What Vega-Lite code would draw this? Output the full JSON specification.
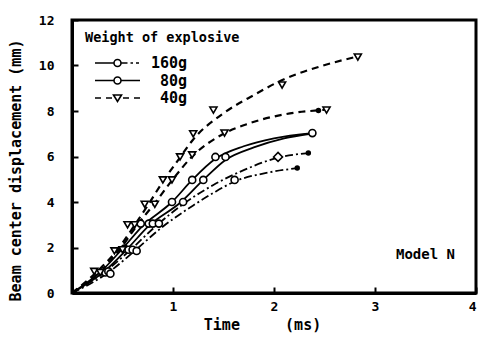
{
  "$schema": "https://vega.github.io/schema/vega-lite/v6.json",
  "autosize": {"type": "none"},
  "padding": {"left": 72, "top": 20, "right": 6, "bottom": 44},
  "width": 404,
  "height": 273,
  "background": "white",
  "config": {
    "view": {"stroke": "black", "strokeWidth": 3},
    "font": "DejaVu Sans Mono",
    "axis": {
      "grid": false,
      "domainColor": "black",
      "domainWidth": 3,
      "tickColor": "black",
      "tickWidth": 2,
      "labelFont": "DejaVu Sans Mono",
      "labelFontWeight": "bold",
      "labelFontSize": 13,
      "labelColor": "black",
      "titleFont": "DejaVu Sans Mono",
      "titleFontWeight": "bold",
      "titleColor": "black"
    }
  },
  "datasets": {
    "lines": [
      {"run": "40a", "w": "40g", "t": 0, "d": 0},
      {"run": "40a", "w": "40g", "t": 0.25, "d": 0.95},
      {"run": "40a", "w": "40g", "t": 0.45, "d": 1.9},
      {"run": "40a", "w": "40g", "t": 0.6, "d": 2.85},
      {"run": "40a", "w": "40g", "t": 0.75, "d": 3.85},
      {"run": "40a", "w": "40g", "t": 0.9, "d": 4.9},
      {"run": "40a", "w": "40g", "t": 1.06, "d": 5.9},
      {"run": "40a", "w": "40g", "t": 1.2, "d": 6.75},
      {"run": "40a", "w": "40g", "t": 1.5, "d": 7.9},
      {"run": "40a", "w": "40g", "t": 1.8, "d": 8.7},
      {"run": "40a", "w": "40g", "t": 2.1, "d": 9.4},
      {"run": "40a", "w": "40g", "t": 2.45, "d": 9.95},
      {"run": "40a", "w": "40g", "t": 2.83, "d": 10.4},
      {"run": "40b", "w": "40g", "t": 0, "d": 0},
      {"run": "40b", "w": "40g", "t": 0.28, "d": 0.95},
      {"run": "40b", "w": "40g", "t": 0.48, "d": 1.95},
      {"run": "40b", "w": "40g", "t": 0.64, "d": 2.95},
      {"run": "40b", "w": "40g", "t": 0.82, "d": 3.95},
      {"run": "40b", "w": "40g", "t": 0.99, "d": 4.95},
      {"run": "40b", "w": "40g", "t": 1.19, "d": 6.0},
      {"run": "40b", "w": "40g", "t": 1.5, "d": 7.0},
      {"run": "40b", "w": "40g", "t": 1.75, "d": 7.45},
      {"run": "40b", "w": "40g", "t": 2.1, "d": 7.85},
      {"run": "40b", "w": "40g", "t": 2.5, "d": 8.05},
      {"run": "80a", "w": "80g", "t": 0, "d": 0},
      {"run": "80a", "w": "80g", "t": 0.3, "d": 1.0},
      {"run": "80a", "w": "80g", "t": 0.5, "d": 1.95},
      {"run": "80a", "w": "80g", "t": 0.7, "d": 2.95},
      {"run": "80a", "w": "80g", "t": 0.99, "d": 4.0},
      {"run": "80a", "w": "80g", "t": 1.19, "d": 4.97},
      {"run": "80a", "w": "80g", "t": 1.42, "d": 5.9},
      {"run": "80a", "w": "80g", "t": 1.7, "d": 6.45},
      {"run": "80a", "w": "80g", "t": 2.0, "d": 6.8},
      {"run": "80a", "w": "80g", "t": 2.38, "d": 7.03},
      {"run": "80b", "w": "80g", "t": 0, "d": 0},
      {"run": "80b", "w": "80g", "t": 0.32, "d": 0.95},
      {"run": "80b", "w": "80g", "t": 0.55, "d": 1.95},
      {"run": "80b", "w": "80g", "t": 0.76, "d": 2.95},
      {"run": "80b", "w": "80g", "t": 1.08, "d": 4.0},
      {"run": "80b", "w": "80g", "t": 1.3, "d": 4.97},
      {"run": "80b", "w": "80g", "t": 1.52, "d": 5.85},
      {"run": "80b", "w": "80g", "t": 1.8, "d": 6.4},
      {"run": "80b", "w": "80g", "t": 2.1, "d": 6.8},
      {"run": "80b", "w": "80g", "t": 2.36, "d": 7.0},
      {"run": "160a", "w": "160g", "t": 0, "d": 0},
      {"run": "160a", "w": "160g", "t": 0.33, "d": 0.95},
      {"run": "160a", "w": "160g", "t": 0.58, "d": 1.9},
      {"run": "160a", "w": "160g", "t": 0.82, "d": 2.9},
      {"run": "160a", "w": "160g", "t": 1.13, "d": 4.0},
      {"run": "160a", "w": "160g", "t": 1.4, "d": 4.75},
      {"run": "160a", "w": "160g", "t": 1.7, "d": 5.4},
      {"run": "160a", "w": "160g", "t": 2.04, "d": 5.95},
      {"run": "160a", "w": "160g", "t": 2.34, "d": 6.15},
      {"run": "160b", "w": "160g", "t": 0, "d": 0},
      {"run": "160b", "w": "160g", "t": 0.36, "d": 0.9},
      {"run": "160b", "w": "160g", "t": 0.62, "d": 1.85},
      {"run": "160b", "w": "160g", "t": 0.88, "d": 2.85},
      {"run": "160b", "w": "160g", "t": 1.2, "d": 3.85},
      {"run": "160b", "w": "160g", "t": 1.4, "d": 4.4},
      {"run": "160b", "w": "160g", "t": 1.61, "d": 4.9},
      {"run": "160b", "w": "160g", "t": 1.95, "d": 5.3},
      {"run": "160b", "w": "160g", "t": 2.23, "d": 5.49}
    ],
    "pts": [
      {"w": "40g", "kind": "obs", "t": 0.22, "d": 0.95},
      {"w": "40g", "kind": "obs", "t": 0.42, "d": 1.85},
      {"w": "40g", "kind": "obs", "t": 0.55, "d": 3.0},
      {"w": "40g", "kind": "obs", "t": 0.72, "d": 3.9},
      {"w": "40g", "kind": "obs", "t": 0.9, "d": 4.97},
      {"w": "40g", "kind": "obs", "t": 1.07, "d": 5.98},
      {"w": "40g", "kind": "obs", "t": 1.2, "d": 7.0},
      {"w": "40g", "kind": "obs", "t": 1.4, "d": 8.04},
      {"w": "40g", "kind": "obs", "t": 2.08, "d": 9.14},
      {"w": "40g", "kind": "obs", "t": 2.83, "d": 10.37},
      {"w": "40g", "kind": "obs", "t": 0.28, "d": 0.9},
      {"w": "40g", "kind": "obs", "t": 0.5, "d": 1.9},
      {"w": "40g", "kind": "obs", "t": 0.62, "d": 3.0},
      {"w": "40g", "kind": "obs", "t": 0.82, "d": 3.9},
      {"w": "40g", "kind": "obs", "t": 0.99, "d": 4.97},
      {"w": "40g", "kind": "obs", "t": 1.19, "d": 6.07},
      {"w": "40g", "kind": "obs", "t": 1.51, "d": 7.03},
      {"w": "40g", "kind": "obs", "t": 2.52, "d": 8.04},
      {"w": "40g", "kind": "end", "t": 2.44, "d": 8.02},
      {"w": "80g", "kind": "obs", "t": 0.3, "d": 0.95},
      {"w": "80g", "kind": "obs", "t": 0.52, "d": 1.95},
      {"w": "80g", "kind": "obs", "t": 0.68, "d": 3.05},
      {"w": "80g", "kind": "obs", "t": 0.99, "d": 4.0},
      {"w": "80g", "kind": "obs", "t": 1.19, "d": 4.97},
      {"w": "80g", "kind": "obs", "t": 1.42, "d": 5.98},
      {"w": "80g", "kind": "obs", "t": 2.38, "d": 7.03},
      {"w": "80g", "kind": "obs", "t": 0.33, "d": 0.9},
      {"w": "80g", "kind": "obs", "t": 0.56, "d": 1.9},
      {"w": "80g", "kind": "obs", "t": 0.76, "d": 3.05},
      {"w": "80g", "kind": "obs", "t": 1.1, "d": 4.0},
      {"w": "80g", "kind": "obs", "t": 1.3, "d": 4.97},
      {"w": "80g", "kind": "obs", "t": 1.52, "d": 5.98},
      {"w": "160g", "kind": "obs", "t": 0.36, "d": 0.95},
      {"w": "160g", "kind": "obs", "t": 0.6, "d": 1.9},
      {"w": "160g", "kind": "obs", "t": 0.8, "d": 3.05},
      {"w": "160g", "kind": "alt", "t": 2.04, "d": 5.98},
      {"w": "160g", "kind": "end", "t": 2.34, "d": 6.15},
      {"w": "160g", "kind": "obs", "t": 0.38, "d": 0.85},
      {"w": "160g", "kind": "obs", "t": 0.64, "d": 1.85},
      {"w": "160g", "kind": "obs", "t": 0.86, "d": 3.05},
      {"w": "160g", "kind": "obs", "t": 1.61, "d": 4.97},
      {"w": "160g", "kind": "end", "t": 2.23, "d": 5.49}
    ]
  },
  "layer": [
    {
      "data": {"name": "lines"},
      "transform": [{"filter": "datum.w === '160g'"}],
      "mark": {"type": "line", "interpolate": "monotone", "color": "black", "strokeWidth": 1.8, "strokeDash": [8, 3, 2, 3]},
      "encoding": {
        "x": {"field": "t", "type": "quantitative", "scale": {"domain": [0, 4], "nice": false},
          "axis": {"values": [1, 2, 3, 4], "format": "d", "tickSize": -6, "labelPadding": 13, "title": "Time\u00a0\u00a0\u00a0\u00a0\u00a0(ms)", "titleFontSize": 15, "titleX": 190, "titleY": 31, "titleBaseline": "middle", "titleAnchor": "middle"}},
        "y": {"field": "d", "type": "quantitative", "scale": {"domain": [0, 12], "nice": false},
          "axis": {"values": [0, 2, 4, 6, 8, 10, 12], "tickSize": -6, "labelPadding": 24, "title": "Beam center displacement (mm)", "titleFontSize": 15, "titleX": -57, "titleY": 150, "titleBaseline": "middle", "titleAnchor": "middle"}},
        "detail": {"field": "run"},
        "opacity": {
          "field": "w", "type": "ordinal",
          "scale": {"domain": ["160g", "80g", "40g"], "range": [1, 1, 1]},
          "legend": {
            "orient": "none", "legendX": 13, "legendY": 11,
            "title": "Weight of explosive",
            "titleFont": "DejaVu Sans Mono", "titleFontSize": 13.5, "titleFontWeight": "bold", "titleColor": "black", "titlePadding": 11,
            "labelFont": "DejaVu Sans Mono", "labelFontSize": 15, "labelFontWeight": "bold", "labelColor": "black",
            "symbolSize": 100, "symbolStrokeWidth": 1.6, "symbolStrokeColor": "black", "symbolFillColor": "white",
            "symbolOffset": 25, "labelOffset": 62, "labelAlign": "right", "rowPadding": 1.5,
            "encode": {"symbols": {"update": {
              "shape": {"signal": "datum.value === '40g' ? 'M-4.5,0H-3.3M-2.3,0H-1.1M1.1,0H2.3M3.3,0H4.5M-0.8,-0.6L0.8,-0.6L0,0.7Z' : datum.value === '80g' ? 'M-4.5,0H-0.7M0.7,0H4.5M-0.7,0A0.7,0.7 0 1,0 0.7,0A0.7,0.7 0 1,0 -0.7,0' : 'M-4.5,0H-0.7M0.7,0H2M2.6,0H3.1M3.7,0H4.3M-0.7,0A0.7,0.7 0 1,0 0.7,0A0.7,0.7 0 1,0 -0.7,0'"},
              "strokeDash": {"value": []},
              "fill": {"value": "white"},
              "stroke": {"value": "black"},
              "strokeWidth": {"value": 1.6}
            }}}
          }
        }
      }
    },
    {
      "data": {"name": "lines"},
      "transform": [{"filter": "datum.w === '80g'"}],
      "mark": {"type": "line", "interpolate": "monotone", "color": "black", "strokeWidth": 1.8},
      "encoding": {
        "x": {"field": "t", "type": "quantitative"},
        "y": {"field": "d", "type": "quantitative"},
        "detail": {"field": "run"}
      }
    },
    {
      "data": {"name": "lines"},
      "transform": [{"filter": "datum.w === '40g'"}],
      "mark": {"type": "line", "interpolate": "monotone", "color": "black", "strokeWidth": 2.2, "strokeDash": [7, 5]},
      "encoding": {
        "x": {"field": "t", "type": "quantitative"},
        "y": {"field": "d", "type": "quantitative"},
        "detail": {"field": "run"}
      }
    },
    {
      "data": {"name": "pts"},
      "transform": [{"filter": "datum.kind === 'obs' && datum.w !== '40g'"}],
      "mark": {"type": "point", "shape": "circle", "fill": "white", "fillOpacity": 1, "stroke": "black", "strokeWidth": 1.6, "size": 50, "opacity": 1},
      "encoding": {
        "x": {"field": "t", "type": "quantitative"},
        "y": {"field": "d", "type": "quantitative"}
      }
    },
    {
      "data": {"name": "pts"},
      "transform": [{"filter": "datum.kind === 'obs' && datum.w === '40g'"}],
      "mark": {"type": "point", "shape": "triangle-down", "fill": "white", "fillOpacity": 1, "stroke": "black", "strokeWidth": 1.6, "size": 50, "opacity": 1},
      "encoding": {
        "x": {"field": "t", "type": "quantitative"},
        "y": {"field": "d", "type": "quantitative"}
      }
    },
    {
      "data": {"name": "pts"},
      "transform": [{"filter": "datum.kind === 'alt'"}],
      "mark": {"type": "point", "shape": "diamond", "fill": "white", "fillOpacity": 1, "stroke": "black", "strokeWidth": 1.6, "size": 80, "opacity": 1},
      "encoding": {
        "x": {"field": "t", "type": "quantitative"},
        "y": {"field": "d", "type": "quantitative"}
      }
    },
    {
      "data": {"name": "pts"},
      "transform": [{"filter": "datum.kind === 'end'"}],
      "mark": {"type": "point", "shape": "circle", "filled": true, "color": "black", "size": 30, "opacity": 1},
      "encoding": {
        "x": {"field": "t", "type": "quantitative"},
        "y": {"field": "d", "type": "quantitative"}
      }
    },
    {
      "data": {"values": [{"label": "Model N"}]},
      "mark": {"type": "text", "font": "DejaVu Sans Mono", "fontWeight": "bold", "fontSize": 14, "color": "black", "align": "center", "baseline": "middle"},
      "encoding": {
        "text": {"field": "label"},
        "x": {"datum": 3.5, "type": "quantitative"},
        "y": {"datum": 1.67, "type": "quantitative"}
      }
    }
  ]
}
